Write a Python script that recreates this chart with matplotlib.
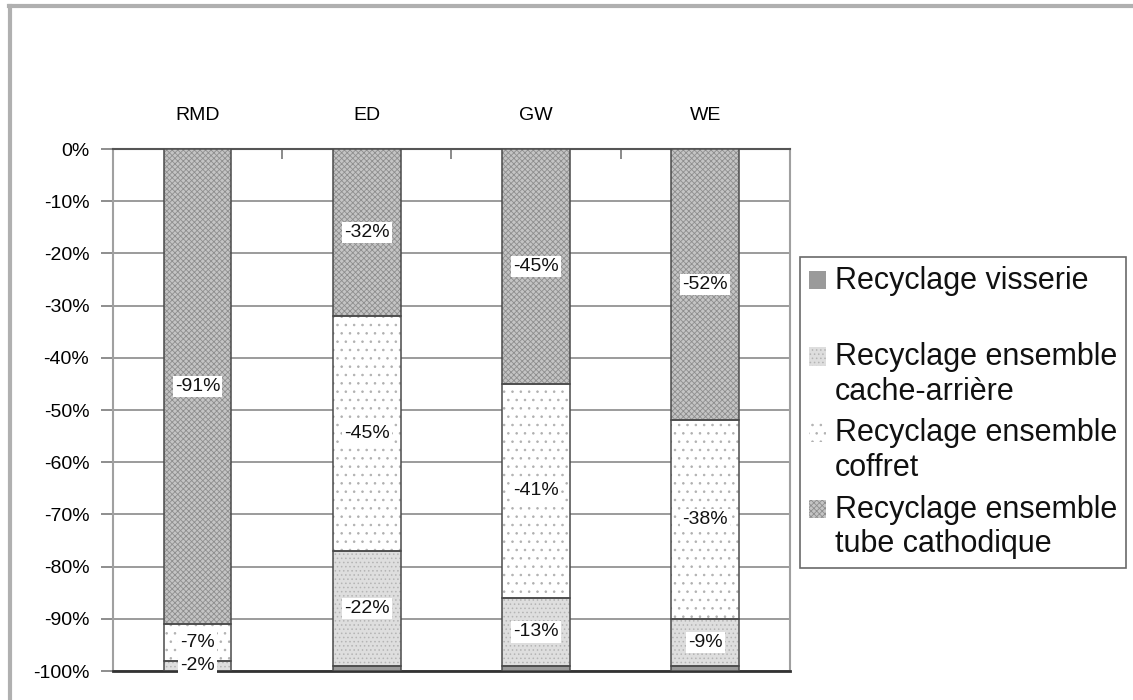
import numpy as np
import matplotlib.pyplot as plt
from matplotlib.lines import Line2D
from matplotlib.patches import Rectangle
from matplotlib.legend_handler import HandlerPatch

plt.rcParams['font.family'] = ['Liberation Sans', 'DejaVu Sans']
plt.rcParams['hatch.linewidth'] = 0.6

# données
categories = ['RMD', 'ED', 'GW', 'WE']
tube = [-91, -32, -45, -52]
coffret = [-7, -45, -41, -38]
cache = [-2, -22, -13, -9]
visserie = [0, -1, -1, -1]

yticks = np.arange(0, -101, -10)
ytick_labels = ['%d%%' % v for v in yticks]

fig = plt.figure(figsize=(11.33, 7), dpi=100)
ax = fig.add_axes([0.0997, 0.0414, 0.5973, 0.7457])

x = np.arange(len(categories))
w = 0.4

# (valeurs, nom, fond, motif, couleur motif, étiquettes)
series = [
    (tube, 'Recyclage ensemble\ntube cathodique', '#c4c4c4', 'xxxxxx', '#8e8e8e', True),
    (coffret, 'Recyclage ensemble\ncoffret', '#ffffff', '..', '#b0b0b0', True),
    (cache, 'Recyclage ensemble\ncache-arrière', '#dedede', '....', '#b4b4b4', True),
    (visserie, 'Recyclage visserie', '#9a9a9a', None, '#9a9a9a', False),
]

bottom = np.zeros(len(categories))
handles = {}
for vals, name, fc, hatch, hc, lab in series:
    vals = np.array(vals, dtype=float)
    # fond + motif
    ax.bar(x, vals, w, bottom=bottom, color=fc, hatch=hatch,
           edgecolor=hc, linewidth=0, zorder=3)
    # contour foncé
    bars = ax.bar(x, vals, w, bottom=bottom, fill=False,
                  edgecolor='#4a4a4a', linewidth=1.1, zorder=3.5)
    if lab:
        ax.bar_label(bars, labels=['%d%%' % v for v in vals], label_type='center',
                     fontsize=14, color='#111111', zorder=4,
                     bbox=dict(facecolor='white', edgecolor='none', pad=1.5))
    handles[name] = Rectangle((0, 0), 1, 1, facecolor=fc, hatch=hatch,
                              edgecolor=hc, linewidth=0)
    bottom = bottom + vals

ax.set_ylim(-100, 0)
ax.set_xlim(-0.5, 3.5)
ax.set_yticks(yticks)
ax.set_yticklabels(ytick_labels, fontsize=14)
ax.yaxis.grid(True, color='#8a8a8a', linewidth=1.2, zorder=0)
ax.tick_params(axis='y', length=9, width=1.2, color='#7a7a7a', pad=8)

ax.xaxis.tick_top()
ax.set_xticks(x)
ax.set_xticklabels(categories, fontsize=14)
ax.tick_params(axis='x', which='major', length=0, pad=18)
ax.set_xticks([0.5, 1.5, 2.5, 3.5], minor=True)
ax.tick_params(axis='x', which='minor', direction='in', length=7, width=1.2,
               color='#777777', top=True, bottom=False)

for s in ['left', 'right']:
    ax.spines[s].set_color('#a0a0a0')
    ax.spines[s].set_linewidth(1.5)
ax.spines['top'].set_color('#555555')
ax.spines['top'].set_linewidth(1.5)
ax.spines['bottom'].set_color('#333333')
ax.spines['bottom'].set_linewidth(2)


# carré de légende aligné sur la première ligne du texte
class TopHandler(HandlerPatch):
    def create_artists(self, legend, orig_handle, xdescent, ydescent,
                       width, height, fontsize, trans):
        shift = 0.62 * fontsize
        p = Rectangle((-xdescent, -ydescent + shift), width, height,
                      facecolor=orig_handle.get_facecolor(),
                      hatch=orig_handle.get_hatch(),
                      edgecolor=orig_handle.get_edgecolor(), linewidth=0)
        p.set_transform(trans)
        return [p]


order = ['Recyclage visserie', 'Recyclage ensemble\ncache-arrière',
         'Recyclage ensemble\ncoffret', 'Recyclage ensemble\ntube cathodique']
leg_labels = ['Recyclage visserie\n', 'Recyclage ensemble\ncache-arrière',
              'Recyclage ensemble\ncoffret', 'Recyclage ensemble\ntube cathodique']
leg = fig.legend([handles[k] for k in order], leg_labels,
                 handler_map={Rectangle: TopHandler()},
                 loc='upper left', bbox_to_anchor=(0.706, 0.633),
                 bbox_transform=fig.transFigure, fontsize=22,
                 frameon=True, fancybox=False, edgecolor='#444444',
                 handlelength=0.55, handleheight=0.55, handletextpad=0.3,
                 labelspacing=0.38, borderpad=0.3, borderaxespad=0)
leg.get_frame().set_linewidth(1.2)
for t in leg.get_texts():
    t.set_color('#111111')

# cadre du graphique
fig.add_artist(Line2D([0.008, 1.0], [0.991, 0.991], color='#b0b0b0', lw=3))
fig.add_artist(Line2D([0.009, 0.009], [0.0, 0.991], color='#b0b0b0', lw=3))

fig.savefig('out.png', dpi=100)
